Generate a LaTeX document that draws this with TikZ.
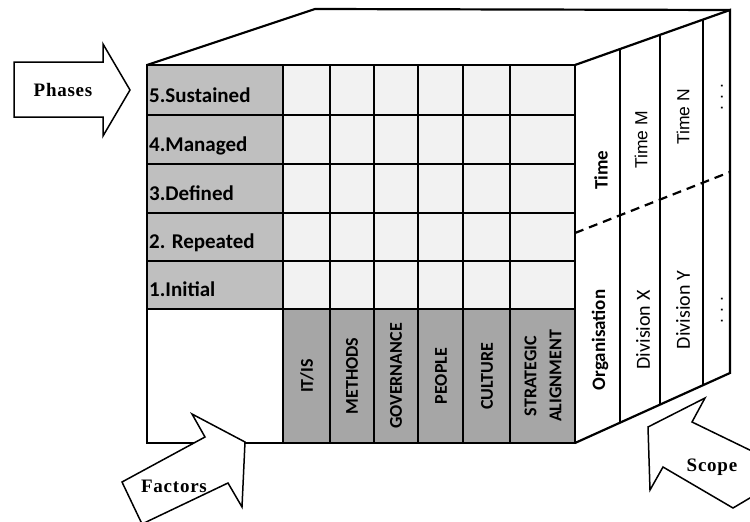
\documentclass[tikz,border=0pt]{standalone}
\usepackage{fontspec}
\newfontfamily\carl{Carlito}
\newfontfamily\serf[LetterSpace=4]{Liberation Serif}
\newfontfamily\arl{Liberation Sans}
\usetikzlibrary{calc}
\definecolor{lblgray}{RGB}{191,191,191}
\definecolor{facgray}{RGB}{166,166,166}
\definecolor{cellgray}{RGB}{242,242,242}
\begin{document}
\begin{tikzpicture}[x=1pt,y=-1pt,line join=miter,
  edge/.style={line width=2.2pt},
  arrowshape/.style={line width=1.5pt,fill=white,line join=miter},
  phase/.style={font=\carl\bfseries\fontsize{21}{24}\selectfont,anchor=base west,inner sep=0pt},
  factor/.style={font=\carl\bfseries\fontsize{18}{25}\selectfont,rotate=90,align=center,inner sep=0pt},
  scopebold/.style={font=\carl\bfseries\fontsize{19}{22}\selectfont,rotate=90,inner sep=0pt},
  scopereg/.style={font=\carl\fontsize{20}{22}\selectfont,rotate=90,inner sep=0pt},
  timereg/.style={font=\arl\fontsize{17.5}{20}\selectfont,rotate=90,inner sep=0pt},
  arrowtext/.style={font=\serf\bfseries\fontsize{19}{22}\selectfont,inner sep=0pt}]
\useasboundingbox (0,0) rectangle (750,522);
\fill[white] (0,0) rectangle (750,522);

% cube corner coordinates
\coordinate (FTL) at (147,65);
\coordinate (FTR) at (575,65);
\coordinate (FBR) at (575,443);
\coordinate (FBL) at (147,443);
\coordinate (BTL) at (315,9);
\coordinate (BTR) at (730,10);
\coordinate (BBR) at (730,373);

% top face
\draw[edge] (FTL) -- (BTL) -- (BTR);
% right face
\draw[edge] (FTR) -- (BTR) -- (BBR) -- (FBR);
\foreach \t in {0.29,0.548,0.826}{
  \draw[edge] ($(FTR)!\t!(BTR)$) -- ($(FBR)!\t!(BBR)$);
}
\coordinate (DL) at (575,233);
\coordinate (DR) at (730,172);
\draw[line width=2.2pt,dash pattern=on 9pt off 6pt] (DL) -- (DR);

% front face fills
\fill[lblgray] (147,65) rectangle (283,309);
\fill[cellgray] (283,65) rectangle (575,309);
\fill[facgray] (283,309) rectangle (575,443);
% grid
\foreach \y in {115,164,213,261,309}{\draw[edge] (147,\y) -- (575,\y);}
\foreach \x in {283,330,374,418,463,510}{\draw[edge] (\x,65) -- (\x,443);}
\draw[edge] (FTL) rectangle (FBR);

% phase labels
\node[phase] (p5) at (149,102) {5.Sustained};
\node[phase] (p4) at (149,151) {4.Managed};
\node[phase] (p3) at (149,200) {3.Defined};
\node[phase] (p2) at (149,248) {2. Repeated};
\node[phase] (p1) at (149,296) {1.Initial};

% factor labels
\node[factor] (f1) at (307,376) {IT/IS};
\node[factor] (f2) at (352,376) {METHODS};
\node[factor] (f3) at (396,376) {GOVERNANCE};
\node[factor] (f4) at (441,376) {PEOPLE};
\node[factor] (f5) at (487,376) {CULTURE};
\node[factor] (f6) at (543,376) {STRATEGIC\\ALIGNMENT};

% right face labels
\node[scopebold] (tm) at (601,170) {Time};
\node[timereg] (tmm) at (641,140) {Time M};
\node[timereg] (tmn) at (683,117) {Time N};
\node[timereg] (tmd) at (722,97) {. . .};
\node[scopebold] (org) at (600,340) {Organisation};
\node[scopereg] (dvx) at (643,330) {Division X};
\node[scopereg] (dvy) at (683,310) {Division Y};
\node[timereg] (dvd) at (722,310) {. . .};

% Phases arrow
\draw[arrowshape] (14,62) -- (103,62) -- (103,44) -- (130,90) -- (103,136) -- (103,117) -- (14,117) -- cycle;
\node[arrowtext] (phases) at (63,90) {Phases};

% Factors arrow
\draw[arrowshape] (122,482) -- (205,437) -- (192,414) -- (245,442) -- (242,507) -- (228,483) -- (142,524) -- cycle;
\node[arrowtext] (factors) at (174,486) {Factors};

% Scope arrow
\draw[arrowshape] (705,398) -- (648,427) -- (650,490) -- (663,467) -- (733,508) -- (760,492) -- (760,455) -- (692,422) -- cycle;
\node[arrowtext] (scope) at (712,467) {Scope};
\end{tikzpicture}
\end{document}
